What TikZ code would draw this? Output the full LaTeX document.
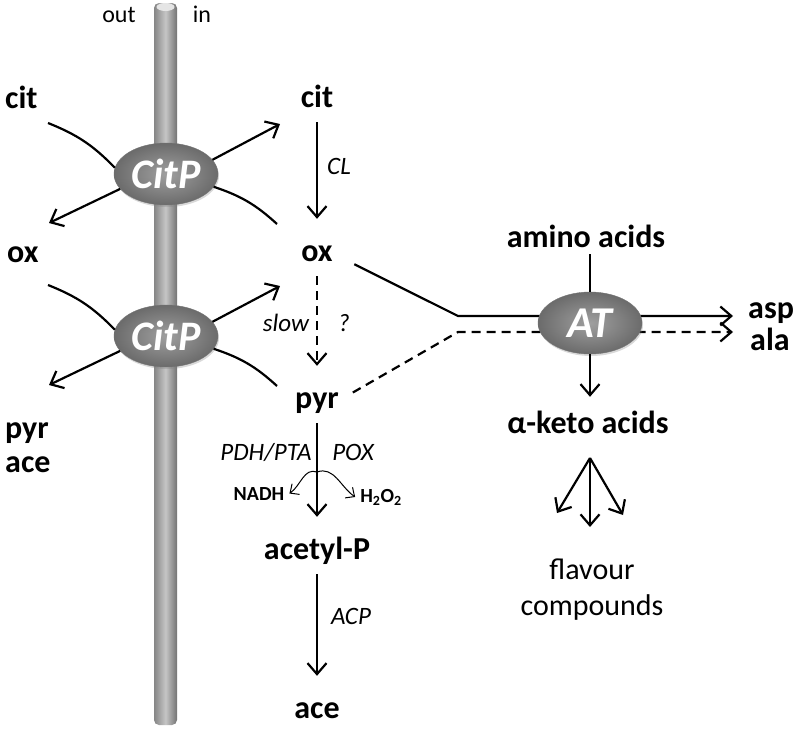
\documentclass[tikz,border=0pt]{standalone}
\usepackage{fontspec}
\setmainfont{Carlito}
\usetikzlibrary{arrows.meta,shapes.geometric,shadows}
\tikzset{
  met/.style={anchor=base, inner sep=0pt, text height=22pt, text depth=7pt, font=\bfseries\fontsize{32}{34}\selectfont},
  enz/.style={anchor=base, inner sep=0pt, font=\itshape\fontsize{25}{27}\selectfont},
  side/.style={anchor=base, inner sep=0pt, font=\fontsize{24}{26}\selectfont},
  cofac/.style={anchor=base, inner sep=0pt, font=\bfseries\fontsize{20}{22}\selectfont},
  prot/.style={ellipse, minimum width=104pt, minimum height=62pt, inner sep=0pt,
    shading=radial, inner color=gray!75, outer color=black!58, draw=black!55, line width=0.4pt,
    drop shadow={shadow xshift=1pt, shadow yshift=-2pt, opacity=0.3},
    text=white, font=\bfseries\itshape\fontsize{42}{44}\selectfont},
  link/.style={line width=2.2pt},
  flow/.style={line width=2.2pt, -{Straight Barb[length=11pt,width=19pt]}},
  chain/.style={flow, shorten <=8pt, shorten >=20pt},
  dashpat/.style={dash pattern=on 9pt off 6pt},
  thinflow/.style={line width=1pt, -{Straight Barb[length=7pt,width=13pt]}}
}
\begin{document}
\begin{tikzpicture}[x=1pt,y=-1pt]
\useasboundingbox (0,0) rectangle (800,728);

\shade[left color=gray!95, right color=gray!110, middle color=gray!45, rounded corners=5pt] (154,3) rectangle (177,725);
\fill[gray!20] (165.5,7) ellipse (9 and 4);

\node[side] (outlbl) at (119,22) {out};
\node[side] (inlbl) at (202,22) {in};

\node[met, anchor=base west] (citout) at (5,108) {cit};
\node[met, anchor=base west] (oxout) at (7,262) {ox};
\node[met, anchor=base west] (pyrout) at (5,438) {pyr};
\node[met, anchor=base west] (aceout) at (5,472) {ace};

\node[prot] (citp1) at (166,174) {CitP};
\node[prot] (citp2) at (166,336) {CitP};

\coordinate (citfar) at (48,123);
\coordinate (oxfar) at (49,223);
\coordinate (citup) at (280,124);
\coordinate (oxlow) at (277,224);
\draw[link] (citfar) to[bend left=12] (citp1.173);
\draw[flow] (citp1.198) -- (oxfar);
\draw[flow] (citp1.17) -- (citup);
\draw[link] (citp1.345) to[bend left=12] (oxlow);

\coordinate (oxfar2) at (48,285);
\coordinate (pyrfar) at (49,385);
\coordinate (oxup) at (280,286);
\coordinate (pyrlow) at (277,386);
\draw[link] (oxfar2) to[bend left=12] (citp2.173);
\draw[flow] (citp2.198) -- (pyrfar);
\draw[flow] (citp2.17) -- (oxup);
\draw[link] (citp2.345) to[bend left=12] (pyrlow);

\node[met] (citin) at (317,107) {cit};
\node[met] (oxin) at (317,261) {ox};
\node[met] (pyrin) at (317,408) {pyr};
\node[met] (acetylp) at (317,559) {acetyl-P};
\node[met] (acein) at (317,718) {ace};

\node[enz] (cl) at (339,174) {CL};
\node[enz] (slow) at (286,331) {slow};
\node[enz] (unk) at (344,331) {?};
\node[enz] (pdh) at (266,460) {PDH/PTA};
\node[enz] (pox) at (353,460) {POX};
\node[enz] (acp) at (351,624) {ACP};
\node[cofac] (nadh) at (259,500) {NADH};
\node[cofac] (hoh) at (381,502) {H\textsubscript{2}O\textsubscript{2}};

\draw[chain] (citin) -- (oxin);
\draw[chain, dashpat] (oxin) -- (pyrin);
\draw[chain] (pyrin) -- (acetylp);
\draw[chain] (acetylp) -- (acein);

\coordinate (split) at (317,472);
\draw[thinflow] (split) to[out=160,in=35] ([xshift=5pt]nadh.east);
\draw[thinflow] (split) to[out=20,in=145] ([xshift=-5pt]hoh.west);

\node[met] (amino) at (586,247) {amino acids};
\node[met, anchor=base west] (asp) at (748,318) {asp};
\node[met, anchor=base west] (ala) at (750,350) {ala};

\coordinate (oxbend) at (458,316);
\coordinate (pyrbend) at (458,332);
\draw[flow, shorten <=24pt, shorten >=15pt] (oxin.east) -- (oxbend) -- (oxbend -| asp.west);
\draw[flow, dashpat, shorten <=16pt, shorten >=17pt] (pyrin.east) -- (pyrbend) -- (pyrbend -| ala.west);

\node[prot, font=\bfseries\itshape\fontsize{44}{46}\selectfont] (atenz) at (590,323) {AT};
\node[met] (keto) at (588,433) {α-keto acids};

\draw[link] (amino.south -| atenz.north) -- (atenz.north);
\draw[flow, shorten >=14pt] (atenz.south) -- (keto.north -| atenz.south);

\coordinate (fork) at (590,458);
\foreach \tip in {(557,513),(590,527),(623,515)}
  \draw[flow] (fork) -- \tip;

\node[align=center, inner sep=0pt, font=\fontsize{30}{36}\selectfont] (flavour) at (592,590) {flavour\\compounds};
\end{tikzpicture}
\end{document}
